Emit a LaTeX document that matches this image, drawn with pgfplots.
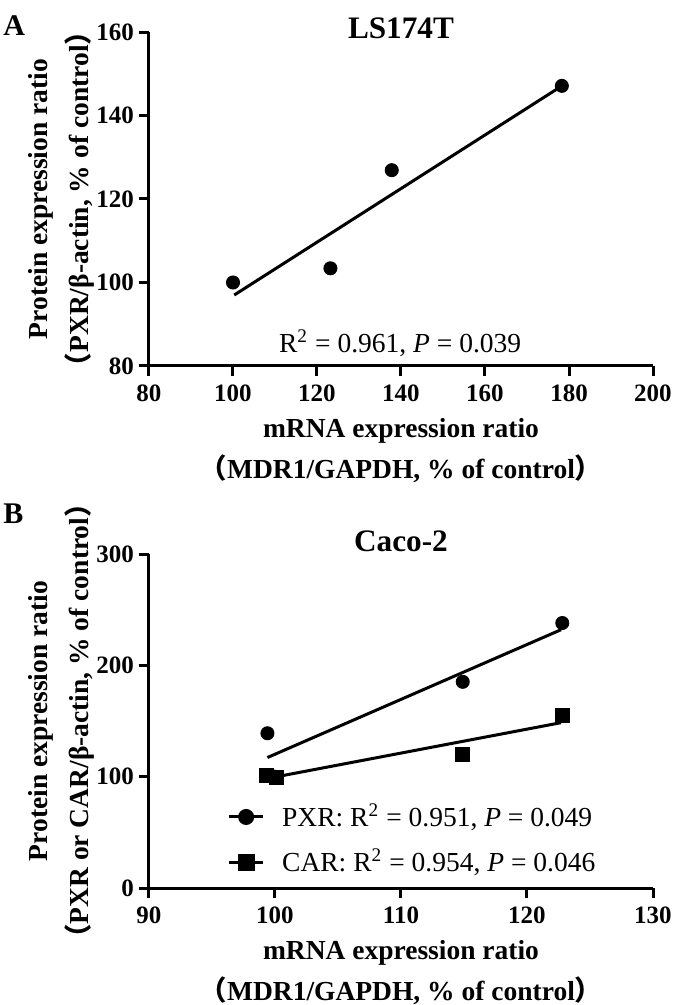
\documentclass[border=0pt]{standalone}
\usepackage{pgfplots}
\pgfplotsset{compat=1.18}
\usepackage{fontspec}
\setmainfont{Liberation Serif}
\newfontfamily\cjk{Noto Sans CJK SC}
\newcommand{\lp}{{\cjk （}}
\newcommand{\rp}{{\cjk ）}}

% 1 px of the reference = 0.4pt
\pgfplotsset{
  panel/.style={
    scale only axis, width=201.6pt, height=133.6pt,
    axis x line*=bottom, axis y line*=left,
    axis line style={line width=1.2pt},
    tick align=outside, major tick length=4pt,
    every tick/.style={line width=1.2pt, black},
    minor tick num=0,
    /pgf/number format/assume math mode=true,
    tick label style={font=\fontsize{10}{12}\selectfont\bfseries},
    yticklabel style={xshift=1.5pt},
    xlabel style={font=\fontsize{11}{16.4}\selectfont\bfseries, align=center,
      at={(axis description cs:0.5,-0.13)}, anchor=north},
    ylabel style={font=\fontsize{11}{16.4}\selectfont\bfseries, align=center,
      at={(axis description cs:-0.09,0.5)}, anchor=south},
    clip=false,
  },
  fitline/.style={black, line width=1.2pt, no marks},
  legend image code/.code={%
    \draw[#1] (0cm,0cm) -- (0.48cm,0cm);
    \draw[#1, mark repeat=2, mark phase=2] plot coordinates {(0cm,0cm) (0.24cm,0cm) (0.48cm,0cm)};
  },
}

\begin{document}
\begin{tikzpicture}

% ---------- panel A ----------
\begin{axis}[panel, name=A, at={(0,0)}, anchor=north west,
  xmin=80, xmax=200, ymin=80, ymax=160,
  xtick={80,100,...,200}, ytick={80,100,...,160},
  xlabel={mRNA expression ratio\\\lp MDR1/GAPDH, \% of control\rp},
  ylabel={Protein expression ratio\\\lp PXR/β-actin, \% of control\rp},
]
\addplot[only marks, mark=*, mark size=2.6pt, black] coordinates {
(100,100) (123.2,103.4) (137.8,126.9) (178.3,147.1)
};
\addplot[fitline] coordinates {(100.3,97.0) (177.7,146.7)};
\node[font=\fontsize{11}{12}\selectfont] at (axis cs:139.8,85.5)
  {R\textsuperscript{2} = 0.961, \textit{P} = 0.039};
\node[font=\fontsize{12.5}{14}\selectfont\bfseries, anchor=base]
  at (rel axis cs:0.5,1) [yshift=-2.5pt] {LS174T};
\end{axis}

% ---------- panel B ----------
\begin{axis}[panel, name=B, at={(0,-208.8pt)}, anchor=north west,
  xmin=90, xmax=130, ymin=0, ymax=300,
  xtick={90,100,...,130}, ytick={0,100,200,300},
  xlabel={mRNA expression ratio\\\lp MDR1/GAPDH, \% of control\rp},
  ylabel={Protein expression ratio\\\lp PXR or CAR/β-actin, \% of control\rp},
  legend style={draw=none, fill=none, at={(axis cs:95.6,43.5)}, anchor=west,
    font=\fontsize{11}{12}\selectfont, row sep=3.5pt, cells={anchor=west}},
]
% PXR
\addplot[only marks, mark=*, mark size=2.6pt, black, forget plot] coordinates {
(99.4,139.0) (100,100) (114.9,185.2) (122.8,238.0)
};
\addplot[fitline, forget plot] coordinates {(99.4,117.2) (122.7,232.0)};
% CAR
\addplot[only marks, mark=square*, mark size=2.8pt, black, forget plot] coordinates {
(99.3,101.4) (100.1,99.3) (114.9,120.2) (122.8,155.1)
};
\addplot[fitline, forget plot] coordinates {(100.1,99.9) (122.7,148.5)};

\addlegendimage{black, line width=1.2pt, mark=*, mark size=2.6pt}
\addlegendentry{\hspace{5pt}PXR: R\textsuperscript{2} = 0.951, \textit{P} = 0.049}
\addlegendimage{black, line width=1.2pt, mark=square*, mark size=2.8pt}
\addlegendentry{\hspace{5pt}CAR: R\textsuperscript{2} = 0.954, \textit{P} = 0.046}

\node[font=\fontsize{12.5}{14}\selectfont\bfseries, anchor=base]
  at (rel axis cs:0.5,1) [yshift=1pt] {Caco-2};
\end{axis}

\node[font=\fontsize{12}{14}\selectfont\bfseries, anchor=north west, inner sep=0pt]
  at (-58.4pt,6.6pt) {A};
\node[font=\fontsize{12}{14}\selectfont\bfseries, anchor=north west, inner sep=0pt]
  at (-58.4pt,-188.4pt) {B};

\pgfresetboundingbox
\path[use as bounding box] (-59.6pt,12.8pt) rectangle (210.4pt,-389.2pt);
\end{tikzpicture}
\end{document}
